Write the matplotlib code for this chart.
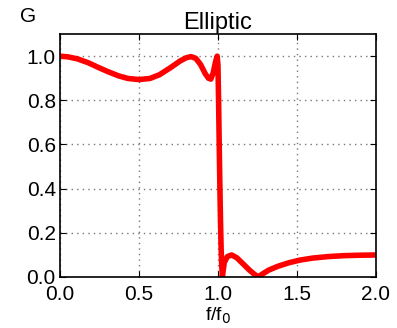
import matplotlib
matplotlib.use("Agg")
import matplotlib.pyplot as plt

plt.rcParams['font.family'] = ['Liberation Sans', 'DejaVu Sans']

# gain curve
freq = [0.0, 0.05, 0.11, 0.18, 0.24, 0.30, 0.37, 0.43, 0.50, 0.57, 0.63, 0.70,
        0.76, 0.80, 0.83, 0.86, 0.89, 0.92, 0.94, 0.955, 0.97, 0.985, 0.995,
        1.000, 1.004, 1.008, 1.012, 1.016, 1.020, 1.024, 1.028,
        1.040, 1.060, 1.087, 1.12, 1.16, 1.20, 1.23, 1.255,
        1.28, 1.32, 1.38, 1.45, 1.52, 1.60, 1.70, 1.80, 1.90, 2.0]
gain = [1.0, 0.997, 0.988, 0.970, 0.950, 0.931, 0.911, 0.899, 0.894, 0.899, 0.916, 0.948,
        0.978, 0.993, 0.998, 0.99, 0.962, 0.92, 0.90, 0.896, 0.925, 0.975, 1.0,
        0.96, 0.80, 0.60, 0.42, 0.26, 0.13, 0.05, 0.0,
        0.065, 0.092, 0.099, 0.086, 0.058, 0.030, 0.012, 0.0,
        0.012, 0.030, 0.048, 0.064, 0.076, 0.085, 0.092, 0.096, 0.098, 0.099]

xticks = [0.0, 0.5, 1.0, 1.5, 2.0]
yticks = [0.0, 0.2, 0.4, 0.6, 0.8, 1.0]

fig = plt.figure(figsize=(3.97, 3.28), dpi=100)
ax = fig.add_axes([0.151, 0.156, 0.796, 0.740])
ax.plot(freq, gain, color='red', lw=4, solid_joinstyle='round')
ax.set_xlim(0, 2)
ax.set_ylim(0, 1.1)
ax.set_xticks(xticks)
ax.set_yticks(yticks)
ax.set_xticklabels([f"{v:.1f}" for v in xticks])
ax.set_yticklabels([f"{v:.1f}" for v in yticks])
ax.tick_params(direction='in', top=True, right=True, labelsize=15, length=4, pad=3)
ax.tick_params(axis='x', pad=6)
ax.grid(True, color='#777777', linestyle=(0, (1, 3)), lw=1)
ax.set_title("Elliptic", fontsize=17, pad=4)
ax.set_xlabel("f/f$_0$", fontsize=14, labelpad=1)
ax.text(-0.1, 1.035, "G", transform=ax.transAxes, fontsize=15, ha='center', va='bottom')
for s in ax.spines.values():
    s.set_linewidth(1.2)

fig.savefig("out.png", dpi=100)
